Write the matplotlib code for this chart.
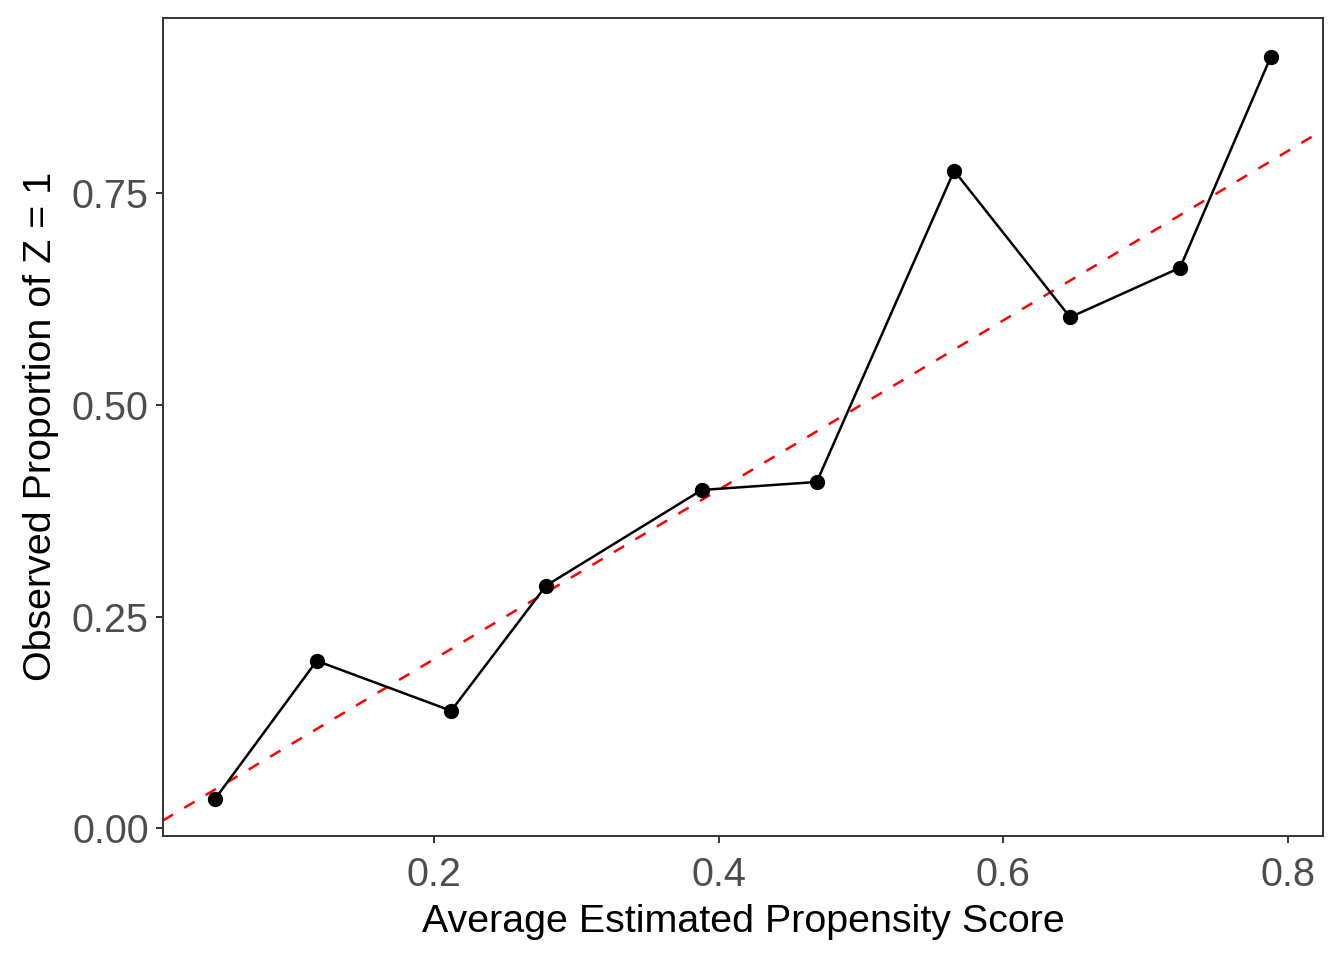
import matplotlib
matplotlib.use("Agg")
import matplotlib.pyplot as plt

# calibration data: bins of estimated propensity score
avg_ps = [0.046, 0.1175, 0.212, 0.2787, 0.3882, 0.469, 0.5656, 0.6471, 0.7244, 0.7882]
obs_prop = [0.0348, 0.198, 0.139, 0.2868, 0.3998, 0.4093, 0.7769, 0.6038, 0.6623, 0.9115]
y_ticks = [0.00, 0.25, 0.50, 0.75]
x_ticks = [0.2, 0.4, 0.6, 0.8]

plt.rcParams['font.family'] = ['Liberation Sans', 'DejaVu Sans']
plt.rcParams['lines.scale_dashes'] = False

fig = plt.figure(figsize=(13.44, 9.6), dpi=100)
ax = fig.add_axes([0.1211, 0.1295, 0.8633, 0.8518])

# reference line y = x
ax.axline((0, 0), slope=1, color='red', lw=1.8, dashes=(8.6, 9.4), zorder=1)
ax.plot(avg_ps, obs_prop, color='black', lw=1.8, marker='o', markersize=10, zorder=2)

ax.set_xlim(0.00928, 0.8249)
ax.set_ylim(-0.0085, 0.9573)
ax.set_xticks(x_ticks)
ax.set_xticklabels([f"{v:.1f}" for v in x_ticks])
ax.set_yticks(y_ticks)
ax.set_yticklabels([f"{v:.2f}" for v in y_ticks])

for s in ax.spines.values():
    s.set_color('#333333')
    s.set_linewidth(1.4)
ax.tick_params(axis='both', direction='out', length=5, width=1.4, color='#333333',
               labelcolor='#4D4D4D', labelsize=28.5)
ax.tick_params(axis='x', pad=9.5)
ax.tick_params(axis='y', pad=5)

ax.set_xlabel("Average Estimated Propensity Score", fontsize=28.4, color='black', labelpad=7.5)
ax.set_ylabel("Observed Proportion of Z = 1", fontsize=28.4, color='black', labelpad=9)

fig.savefig("out.png", dpi=100)
